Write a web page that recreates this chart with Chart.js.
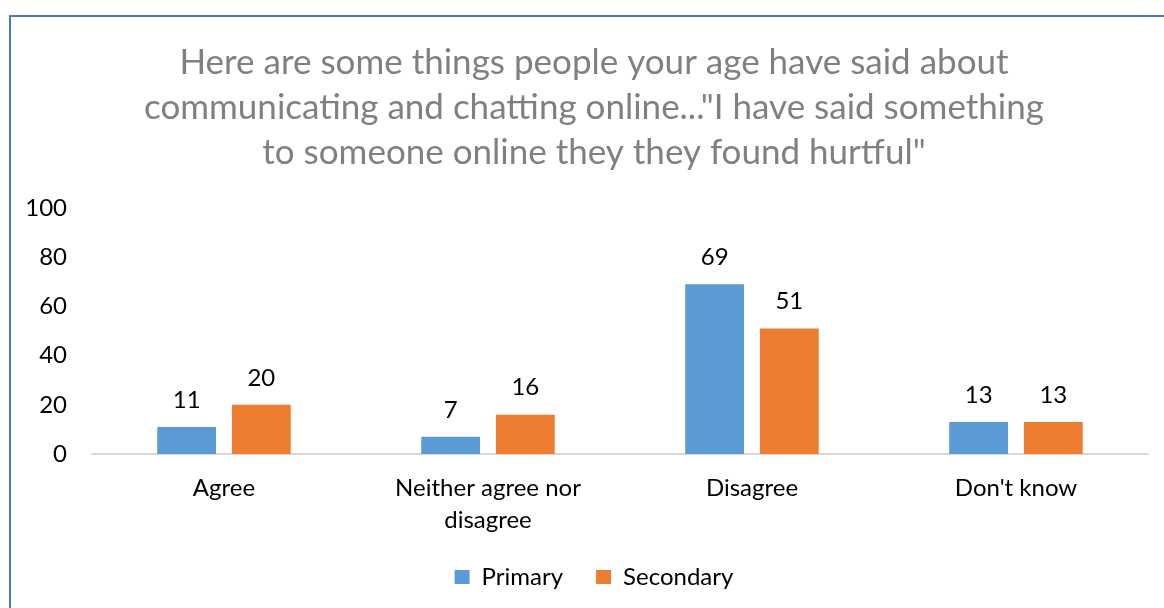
<!DOCTYPE html>
<html>
<head>
<meta charset="utf-8">
<script src="https://cdn.jsdelivr.net/npm/chart.js@4"></script>
<style>
  html, body { margin: 0; padding: 0; background: #fff; }
  #wrap { position: relative; width: 1164px; height: 608px; overflow: hidden; }
  #frame {
    position: absolute; left: 9px; top: 15px; width: 1200px; height: 700px;
    border-left: 2px solid #4a7ebb; border-top: 2px solid #4a7ebb;
  }
  #chart { position: absolute; left: 0; top: 0; }
</style>
</head>
<body>
<div id="wrap">
  <div id="frame"></div>
  <canvas id="chart" width="1164" height="608"></canvas>
</div>
<script>
const categories = ['Agree', ['Neither agree nor', 'disagree'], 'Disagree', "Don't know"];
const primary = [11, 7, 69, 13];
const secondary = [20, 16, 51, 13];
const titleLines = [
  'Here are some things people your age have said about',
  'communicating and chatting online..."I have said something',
  'to someone online they they found hurtful"'
];

const FONT = "Lato, 'Open Sans', sans-serif";

// value labels above every bar
const barValues = {
  id: 'barValues',
  afterDatasetsDraw(chart) {
    const ctx = chart.ctx;
    ctx.save();
    ctx.font = '24px ' + FONT;
    ctx.fillStyle = '#000';
    ctx.textAlign = 'center';
    ctx.textBaseline = 'middle';
    chart.data.datasets.forEach((ds, i) => {
      chart.getDatasetMeta(i).data.forEach((bar, j) => {
        ctx.fillText(String(ds.data[j]), bar.x, bar.y - 27);
      });
    });
    ctx.restore();
  }
};

new Chart(document.getElementById('chart'), {
  type: 'bar',
  data: {
    labels: categories,
    datasets: [
      { label: 'Primary', data: primary, backgroundColor: '#5b9bd5' },
      { label: 'Secondary', data: secondary, backgroundColor: '#ed7d31' }
    ]
  },
  options: {
    responsive: false,
    animation: false,
    layout: { padding: { left: 24, right: 0, top: 40, bottom: 9 } },
    datasets: {
      bar: { categoryPercentage: 0.566, barPercentage: 0.787 }
    },
    scales: {
      x: {
        grid: { display: false, drawTicks: false },
        border: { color: '#d9d9d9', width: 2 },
        ticks: {
          color: '#000', padding: 18, maxRotation: 0, autoSkip: false,
          font: { family: FONT, size: 24, lineHeight: 1.333 }
        },
        afterFit(scale) { scale.height = 78; }
      },
      y: {
        min: 0, max: 100,
        grid: { display: false, drawTicks: false },
        border: { display: false },
        ticks: {
          stepSize: 20, color: '#000', padding: 25,
          font: { family: FONT, size: 24 }
        },
        afterFit(scale) { scale.width = 68; }
      },
      // empty strip on the right so the plot ends short of the frame edge
      gutter: {
        position: 'right',
        min: 0, max: 100,
        grid: { display: false, drawTicks: false },
        border: { display: false },
        ticks: { display: false },
        afterFit(scale) { scale.width = 16; }
      }
    },
    plugins: {
      title: {
        display: true,
        text: titleLines,
        color: '#808080',
        font: { family: FONT, size: 35, weight: 'normal', lineHeight: 1.286 },
        padding: { top: 0, bottom: 33 }
      },
      legend: {
        position: 'bottom',
        labels: {
          color: '#000', boxWidth: 15, boxHeight: 14, padding: 33,
          font: { family: FONT, size: 24 }
        }
      },
      tooltip: { enabled: false }
    }
  },
  plugins: [barValues]
});
</script>
</body>
</html>
